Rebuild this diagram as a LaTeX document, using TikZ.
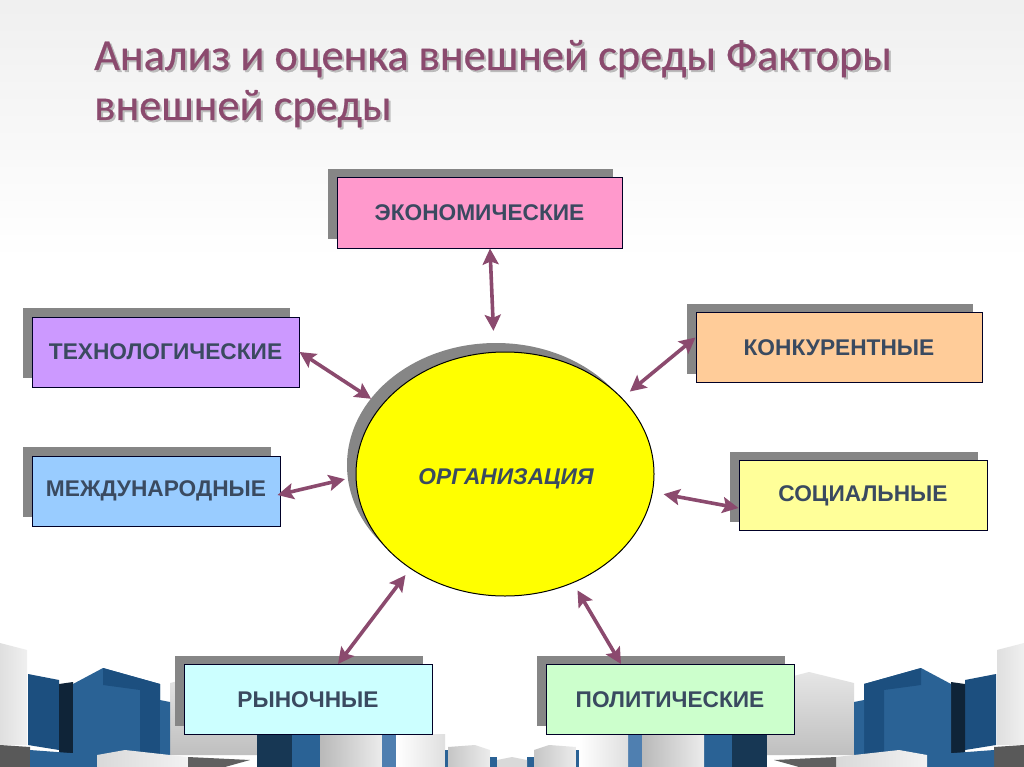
\documentclass[tikz,border=0pt]{standalone}
\usepackage{fontspec}
\setmainfont{Liberation Sans}
\newfontfamily\titlefont[FakeBold=0.5]{Carlito}
\usetikzlibrary{arrows.meta,shadows,calc,shapes.geometric}
\definecolor{arrowc}{HTML}{8B4A6E}
\definecolor{labelc}{HTML}{3A4A60}
\definecolor{shadowc}{HTML}{868686}
\definecolor{bluea}{HTML}{2A6295}
\definecolor{blueb}{HTML}{1C4F7F}
\definecolor{bluec}{HTML}{4F7FB0}
\definecolor{blued}{HTML}{0F2438}
\definecolor{pureyellow}{HTML}{FFFF00}
\tikzset{
  factor/.style={draw=black!85!blue,line width=1pt,minimum height=70pt,inner sep=0pt,
    text=labelc,font=\fontsize{22.7}{26}\selectfont\bfseries,
    general shadow={fill=shadowc,shadow xshift=-9pt,shadow yshift=9pt,draw=none}},
  link/.style={draw=arrowc,line width=3.6pt,{Stealth[length=16pt,width=16pt,inset=3pt]}-{Stealth[length=16pt,width=16pt,inset=3pt]}},
  titletext/.style={inner sep=0pt,anchor=base west,align=left,
    font=\titlefont\fontsize{44.4}{50}\selectfont}
}
\newcommand{\cityside}{%
  \shade[left color=gray!25,right color=white!88!gray] (0,643) -- (27,650) -- (27,745) -- (0,745) -- cycle;
  \shade[top color=white!80!gray,bottom color=gray!50] (170,683) -- (215,672) -- (257,683) -- (257,755) -- (170,755) -- cycle;
  \fill[blueb] (28,674) -- (59,680) -- (59,750) -- (28,745) -- cycle;
  \fill[blued] (59,684) -- (73,682) -- (73,755) -- (59,755) -- cycle;
  \fill[bluea] (73,684) -- (103,668) -- (160,684) -- (160,755) -- (73,755) -- cycle;
  \fill[blueb] (103,668) -- (160,684) -- (160,755) -- (140,755) -- (140,690) -- (103,685) -- cycle;
  \fill[bluea] (160,700) -- (170,702) -- (170,755) -- (160,755) -- cycle;
  \fill[gray!70!black] (0,745) -- (30,747) -- (30,767) -- (0,767) -- cycle;
  \fill[bluea] (30,750) -- (97,755) -- (97,767) -- (30,767) -- cycle;
  \shade[left color=gray!30,right color=gray!10] (97,755) -- (125,750) -- (188,757) -- (188,767) -- (97,767) -- cycle;
  \fill[gray!75!black] (188,757) -- (250,760) -- (225,767) -- (188,767) -- cycle;
  \fill[blued!70!bluea] (257,734) rectangle (292,767);
  \fill[bluea] (292,734) rectangle (320,767);
  \shade[left color=gray!55,right color=gray!15] (320,734) rectangle (382,767);
  \fill[bluec] (382,734) rectangle (396,767);
  \shade[left color=white,right color=gray!25] (396,734) rectangle (445,767);
  \fill[bluea] (445,750) rectangle (448,767);
  \shade[left color=gray!45,right color=gray!15] (448,747) -- (475,745) -- (490,750) -- (490,767) -- (448,767) -- cycle;
  \fill[bluea] (490,757) rectangle (497,767);
  \fill[gray!30] (497,760) -- (512,757) -- (512,767) -- (497,767) -- cycle;
}
\begin{document}
\begin{tikzpicture}[x=1pt,y=-1pt]
\useasboundingbox (0,0) rectangle (1024,767);
\shade[top color=black!6,bottom color=white] (0,0) rectangle (1024,260);
\fill[white] (0,260) rectangle (1024,767);
\begin{scope}\cityside\end{scope}
\begin{scope}[shift={(1024,0)},x=-1pt]\cityside\end{scope}

\node[titletext,text=black!35,opacity=.7] (titleshadow) at (96,122) {Анализ и оценка внешней среды Факторы\\внешней среды};
\node[titletext,text=arrowc] (title) at (94,120) {Анализ и оценка внешней среды Факторы\\внешней среды};

\node[factor,fill=pureyellow,ellipse,draw=black,minimum width=298pt,minimum height=244pt] (org) at (505,474) {};
\node[text=labelc,font=\fontsize{22.7}{26}\selectfont\bfseries\itshape] (orglabel) at (506,479) {ОРГАНИЗАЦИЯ};

\node[factor,fill={rgb,255:red,255;green,153;blue,204},minimum width=285pt] (econ) at (479.5,213) {ЭКОНОМИЧЕСКИЕ};
\node[factor,fill={rgb,255:red,204;green,153;blue,255},minimum width=267pt] (tech) at (165.5,352) {ТЕХНОЛОГИЧЕСКИЕ};
\node[factor,fill={rgb,255:red,255;green,204;blue,153},minimum width=286pt] (konk) at (839,347.5) {КОНКУРЕНТНЫЕ};
\node[factor,fill={rgb,255:red,153;green,204;blue,255},minimum width=248pt] (mezh) at (156,491) {МЕЖДУНАРОДНЫЕ};
\node[factor,fill={rgb,255:red,255;green,255;blue,153},minimum width=248pt] (soc) at (863,495.5) {СОЦИАЛЬНЫЕ};
\node[factor,fill={rgb,255:red,204;green,255;blue,255},minimum width=248pt] (ryn) at (308,699.5) {РЫНОЧНЫЕ};
\node[factor,fill={rgb,255:red,204;green,255;blue,204},minimum width=248pt] (pol) at (670,699.5) {ПОЛИТИЧЕСКИЕ};

\draw[link,shorten >=21pt] ([xshift=10.5pt]econ.south) -- (org.95.6);
\draw[link,shorten >=12pt] (tech.east) -- (org.151.1);
\draw[link,shorten >=10pt] ([yshift=10pt]konk.west) -- (org.33.8);
\draw[link,shorten >=11pt] ([xshift=-3pt,yshift=-4pt]mezh.east) -- (org.181.4);
\draw[link,shorten >=11pt] ([yshift=-12.5pt]soc.west) -- (org.-7.2);
\draw[link,shorten >=8pt] ([xshift=30pt]ryn.north) -- (org.-135);
\draw[link,shorten >=8.5pt] ([xshift=-49pt]pol.north) -- (org.-58.2);
\end{tikzpicture}
\end{document}
